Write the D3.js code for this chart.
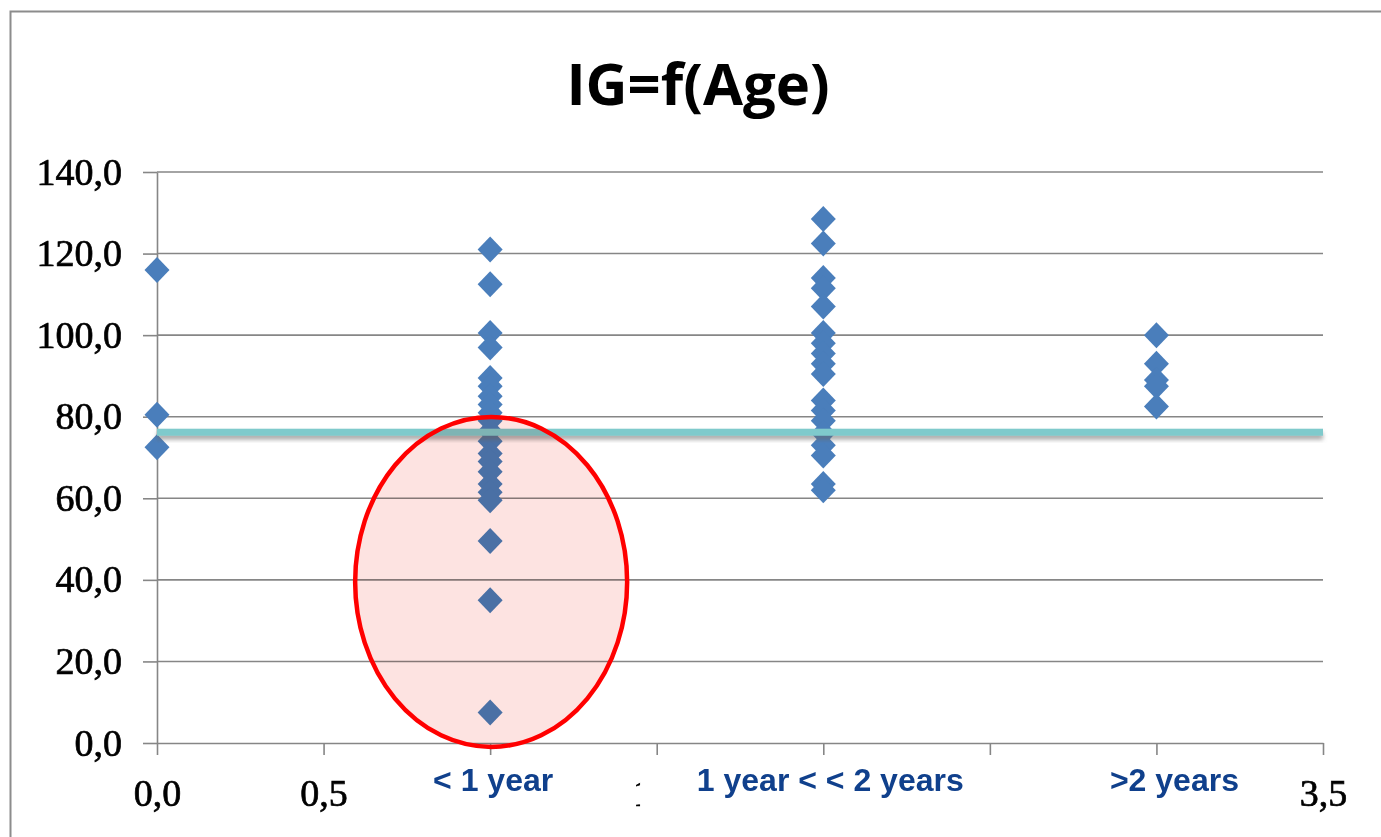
<!DOCTYPE html>
<html>
<head>
<meta charset="utf-8">
<script src="https://cdn.jsdelivr.net/npm/d3@7"></script>
<style>
  body { margin: 0; background: #fff; }
  svg { display: block; }
</style>
</head>
<body>
<div id="chart"></div>
<script>
// Data: IG values per age group (x position)
const ageLessThan0 = [116, 80.5, 72.5];
const ageUnder1 = [121, 112.5, 100.5, 97, 89.5, 87.5, 85, 83, 81, 79, 76.5, 74, 71, 69, 66.5, 63.5, 61.5, 59.5, 49.5, 35, 7.5];
const age1to2 = [128.5, 122.5, 114, 111.5, 107, 100.5, 98, 95.5, 93, 90.5, 84, 81.5, 79, 76, 73, 70.5, 63.5, 62];
const ageOver2 = [100, 93, 89, 87.5, 82.5];
const groupX = [0, 1, 2, 3];
const threshold = 76.2;

const yTicks = [0, 20, 40, 60, 80, 100, 120, 140];
const xTicks = [0, 0.5, 1, 1.5, 2, 2.5, 3, 3.5];
const groupLabels = ['< 1 year', '1 year < < 2 years', '>2 years'];
const groupLabelX = [1, 2, 3];

// Build point list
const groups = [ageLessThan0, ageUnder1, age1to2, ageOver2];
const points = [];
groups.forEach((vals, i) => {
    vals.forEach(v => points.push({ x: groupX[i], y: v }));
});

const W = 1381, H = 837;
const margin = { top: 172, right: 58, bottom: 94, left: 157 };
const width = W - margin.left - margin.right;
const height = H - margin.top - margin.bottom;

const root = d3.select('#chart')
    .append('svg')
    .attr('width', W)
    .attr('height', H);

// shadow for the threshold line
const defs = root.append('defs');
defs.append('filter')
    .attr('id', 'shadow')
    .attr('x', '-5%').attr('y', '-100%')
    .attr('width', '110%').attr('height', '300%')
    .append('feDropShadow')
    .attr('dx', 0).attr('dy', 4)
    .attr('stdDeviation', 2)
    .attr('flood-color', '#666')
    .attr('flood-opacity', 0.55);

// outer frame
root.append('rect')
    .attr('x', 10.5).attr('y', 11.5)
    .attr('width', W + 20).attr('height', H + 20)
    .attr('fill', '#fff')
    .attr('stroke', '#8c8c8c')
    .attr('stroke-width', 2);

// title
root.append('text')
    .attr('x', 698)
    .attr('y', 105)
    .attr('text-anchor', 'middle')
    .style('font-family', '"Open Sans", sans-serif')
    .style('font-weight', 700)
    .style('font-size', '58px')
    .style('fill', '#000')
    .text('IG=f(Age)');

const svg = root.append('g')
    .attr('transform', `translate(${margin.left},${margin.top})`);

// scales
const xScale = d3.scaleLinear().domain([0, 3.5]).range([0, width]);
const yScale = d3.scaleLinear().domain([0, 140]).range([height, 0]);

const fmt = d => d.toFixed(1).replace('.', ',');

// gridlines
svg.selectAll('.grid')
    .data(yTicks.filter(d => d > 0))
    .enter()
    .append('line')
    .attr('x1', 0)
    .attr('x2', width)
    .attr('y1', d => yScale(d))
    .attr('y2', d => yScale(d))
    .attr('stroke', '#868686')
    .attr('stroke-width', 1.6);

// Y axis
const yAxisGroup = svg.append('g')
    .call(d3.axisLeft(yScale).tickValues(yTicks).tickSize(14).tickSizeOuter(0).tickFormat(fmt));
yAxisGroup.select('.domain').attr('stroke', '#868686').attr('stroke-width', 1.6);
yAxisGroup.selectAll('line').attr('stroke', '#868686').attr('stroke-width', 1.6);
yAxisGroup.selectAll('text')
    .attr('x', -35)
    .attr('dy', 12)
    .style('font-family', '"Liberation Serif", serif')
    .style('font-size', '38px')
    .style('fill', '#000')
    .style('stroke', '#000')
    .style('stroke-width', 0.7);

// X axis
const xAxisGroup = svg.append('g')
    .attr('transform', `translate(0,${height})`)
    .call(d3.axisBottom(xScale).tickValues(xTicks).tickSize(12).tickSizeOuter(0).tickFormat(fmt));
xAxisGroup.select('.domain').attr('stroke', '#868686').attr('stroke-width', 1.6);
xAxisGroup.selectAll('line').attr('stroke', '#868686').attr('stroke-width', 1.6);
// the middle tick labels are hidden under the white label boxes in the reference
xAxisGroup.selectAll('.tick text')
    .attr('y', 63)
    .attr('dy', 0)
    .style('font-family', '"Liberation Serif", serif')
    .style('font-size', '38px')
    .style('fill', '#000')
    .style('stroke', '#000')
    .style('stroke-width', 0.7)
    .style('display', d => (d === 0 || d === 0.5 || d === 3.5) ? null : 'none');

// diamonds
const diamond = 'M0,-13L12.5,0L0,13L-12.5,0Z';
svg.selectAll('.pt')
    .data(points)
    .enter()
    .append('path')
    .attr('class', 'pt')
    .attr('d', diamond)
    .attr('transform', d => `translate(${xScale(d.x)},${yScale(d.y)})`)
    .attr('fill', '#4a7ebb');

// threshold line (drawn as a thin rect so the shadow filter has a box)
svg.append('rect')
    .attr('x', xScale(0))
    .attr('width', xScale(3.5) - xScale(0))
    .attr('y', yScale(threshold) - 3.5)
    .attr('height', 7)
    .attr('fill', '#7fcacc')
    .attr('filter', 'url(#shadow)');

// highlight ellipse
const ell = { cx: 1.003, cy: 39.5, rx: 136, ry: 165 };
svg.append('ellipse')
    .attr('cx', xScale(ell.cx))
    .attr('cy', yScale(ell.cy))
    .attr('rx', ell.rx)
    .attr('ry', ell.ry)
    .attr('fill', '#fde3e1')
    .style('mix-blend-mode', 'multiply');
svg.append('ellipse')
    .attr('cx', xScale(ell.cx))
    .attr('cy', yScale(ell.cy))
    .attr('rx', ell.rx)
    .attr('ry', ell.ry)
    .attr('fill', 'none')
    .attr('stroke', '#ff0000')
    .attr('stroke-width', 4.5);

// small remnant of the "1,5" label peeking out left of the middle box
svg.append('text')
    .attr('x', xScale(1.5))
    .attr('y', height + 63)
    .attr('text-anchor', 'middle')
    .style('font-family', '"Liberation Serif", serif')
    .style('font-size', '38px')
    .style('fill', '#000')
    .style('stroke', '#000')
    .style('stroke-width', 0.7)
    .text(fmt(1.5));

// white boxes covering numeric tick labels
const boxes = [
    { x0: 0.8, x1: 1.2 },
    { x0: 1.45, x1: 2.59 },
    { x0: 2.8, x1: 3.3 }
];
svg.selectAll('.box')
    .data(boxes)
    .enter()
    .append('rect')
    .attr('x', d => xScale(d.x0))
    .attr('width', d => xScale(d.x1) - xScale(d.x0))
    .attr('y', height + 18)
    .attr('height', 58)
    .attr('fill', '#fff');

// group labels
svg.selectAll('.glabel')
    .data(groupLabels)
    .enter()
    .append('text')
    .attr('x', (d, i) => xScale(groupLabelX[i]) + [3, 7, 18][i])
    .attr('y', height + 48)
    .attr('text-anchor', 'middle')
    .style('font-family', '"Liberation Sans", Arial, sans-serif')
    .style('font-weight', 700)
    .style('font-size', '32px')
    .style('fill', '#10408c')
    .text(d => d);
</script>
</body>
</html>
